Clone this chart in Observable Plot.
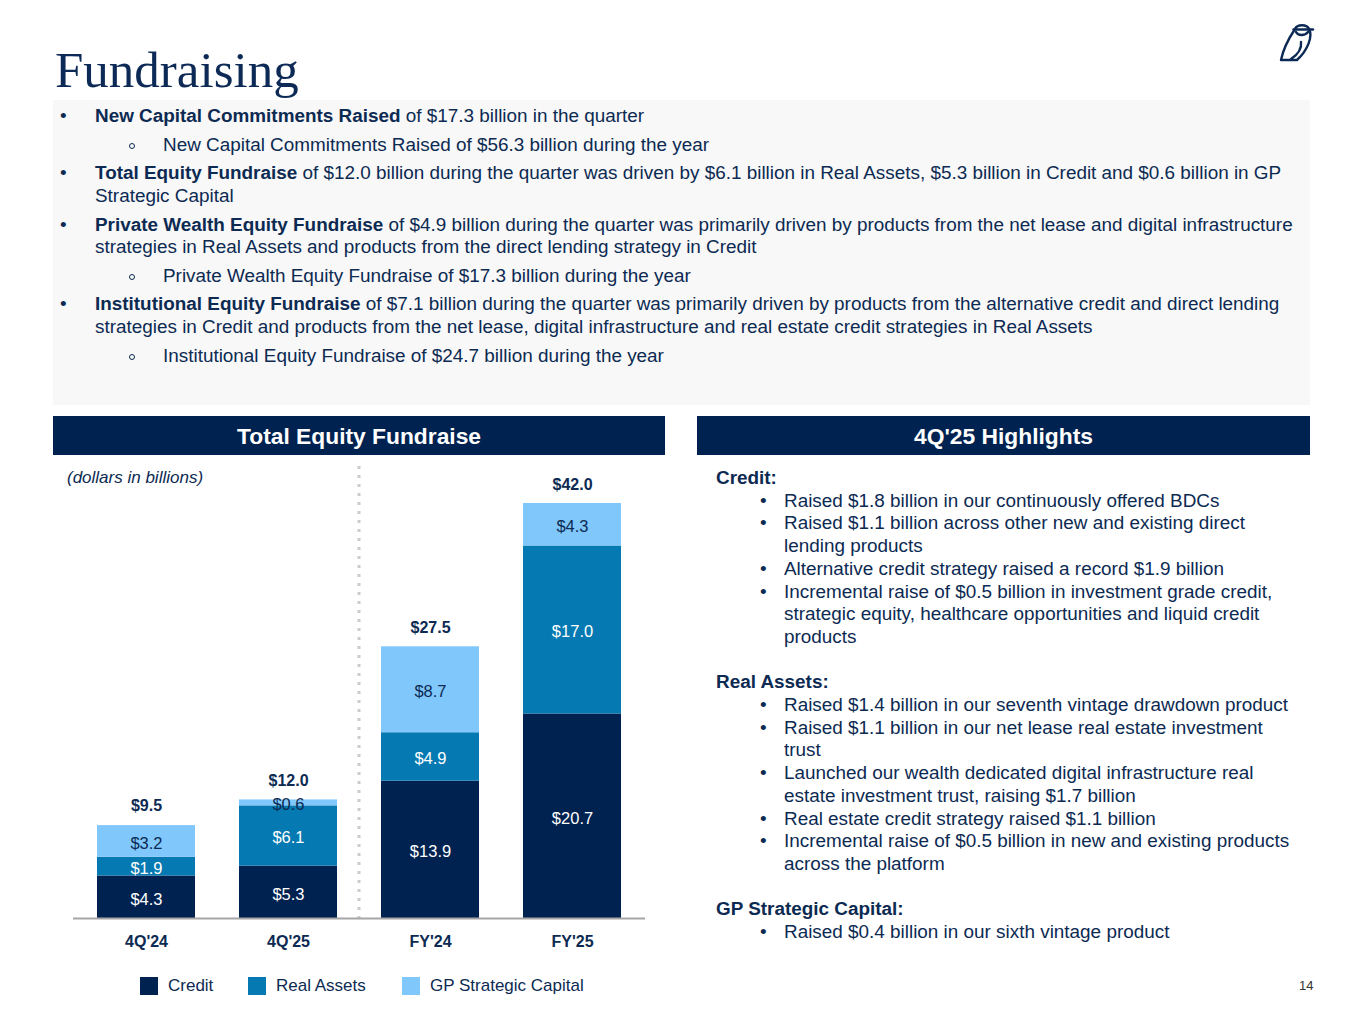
<!DOCTYPE html>
<html>
<head>
<meta charset="utf-8">
<script src="https://cdn.jsdelivr.net/npm/d3@7"></script>
<script src="https://cdn.jsdelivr.net/npm/@observablehq/plot@0.6"></script>
<style>
  html, body { margin: 0; padding: 0; background: #fff; }
  #page { position: relative; width: 1365px; height: 1024px; overflow: hidden; font-family: "Liberation Sans", Arial, sans-serif; color: #0c2a52; }
  .abs { position: absolute; }
  #title { left: 55px; top: 40px; font-family: "Liberation Serif", "DejaVu Serif", serif; font-size: 51px; color: #0c2a55; line-height: 60px; }
  #box { left: 53px; top: 100px; width: 1257px; height: 305px; background: #f8f8f8; }
  .ln { position: absolute; white-space: nowrap; font-size: 18.9px; line-height: 22px; color: #0c2a52; }
  .hdr { position: absolute; top: 416px; height: 39px; background: #002251; color: #fff; font-weight: bold; font-size: 22.8px; line-height: 40px; text-align: center; }
  #chart { left: 53px; top: 460px; }
  .leg { position: absolute; top: 977px; font-size: 17px; line-height: 18px; white-space: nowrap; color: #0c2a52; }
  .sw { display: inline-block; width: 18px; height: 18px; vertical-align: top; margin-right: 10px; }
  .ring { position: absolute; width: 4px; height: 4px; border: 1.3px solid #0c2a52; border-radius: 50%; }
</style>
</head>
<body>
<div id="page">
  <div id="title" class="abs">Fundraising</div>
  <svg class="abs" style="left:1275px;top:20px" width="44" height="44" viewBox="0 0 44 44">
    <g fill="none" stroke="#0c2a55" stroke-width="2.4" stroke-linecap="round" stroke-linejoin="round">
      <path d="M20 9 C22 4 32 4 34 9"/>
      <path d="M18.5 9.5 L38 9.5"/>
      <path d="M21 12 C23 16 30 16 33 12"/>
      <path d="M34 9 C38 16 33 30 22 40 L6 40 C8 30 14 18 20 9"/>
      <path d="M26 22 C27 29 22 35 16 39"/>
    </g>
  </svg>
  <div id="box" class="abs"></div>
  <div class="hdr" style="left:53px;width:612px;">Total Equity Fundraise</div>
  <div class="hdr" style="left:697px;width:613px;">4Q'25 Highlights</div>
  <div class="ln" style="left:67px;top:467px;font-style:italic;font-size:17px;">(dollars in billions)</div>
  <div id="chart" class="abs"></div>
  <div class="ln" style="left:1299px;top:975px;font-size:13px;color:#333;">14</div>
</div>
<script>
// ---------- data ----------
const categories = ["4Q'24", "4Q'25", "FY'24", "FY'25"];
const seriesNames = ["Credit", "Real Assets", "GP Strategic Capital"];
const credit = [4.3, 5.3, 13.9, 20.7];
const realAssets = [1.9, 6.1, 4.9, 17.0];
const gpStrategic = [3.2, 0.6, 8.7, 4.3];
const totals = [9.5, 12.0, 27.5, 42.0];
const seriesColors = ["#002251", "#0579b1", "#80c7fb"];

const bulletLines = [
  {kind: "main", bold: "New Capital Commitments Raised", rest: " of $17.3 billion in the quarter"},
  {kind: "sub", rest: "New Capital Commitments Raised of $56.3 billion during the year"},
  {kind: "main", bold: "Total Equity Fundraise", rest: " of $12.0 billion during the quarter was driven by $6.1 billion in Real Assets, $5.3 billion in Credit and $0.6 billion in GP"},
  {kind: "cont", rest: "Strategic Capital"},
  {kind: "main", bold: "Private Wealth Equity Fundraise", rest: " of $4.9 billion during the quarter was primarily driven by products from the net lease and digital infrastructure"},
  {kind: "cont", rest: "strategies in Real Assets and products from the direct lending strategy in Credit"},
  {kind: "sub", rest: "Private Wealth Equity Fundraise of $17.3 billion during the year"},
  {kind: "main", bold: "Institutional Equity Fundraise", rest: " of $7.1 billion during the quarter was primarily driven by products from the alternative credit and direct lending"},
  {kind: "cont", rest: "strategies in Credit and products from the net lease, digital infrastructure and real estate credit strategies in Real Assets"},
  {kind: "sub", rest: "Institutional Equity Fundraise of $24.7 billion during the year"}
];
const bulletCenters = [116, 145, 173, 196, 225, 247, 276, 304, 327, 356];

const highlightLines = [
  {kind: "head", text: "Credit:"},
  {kind: "item", text: "Raised $1.8 billion in our continuously offered BDCs"},
  {kind: "item", text: "Raised $1.1 billion across other new and existing direct"},
  {kind: "cont", text: "lending products"},
  {kind: "item", text: "Alternative credit strategy raised a record $1.9 billion"},
  {kind: "item", text: "Incremental raise of $0.5 billion in investment grade credit,"},
  {kind: "cont", text: "strategic equity, healthcare opportunities and liquid credit"},
  {kind: "cont", text: "products"},
  {kind: "blank", text: ""},
  {kind: "head", text: "Real Assets:"},
  {kind: "item", text: "Raised $1.4 billion in our seventh vintage drawdown product"},
  {kind: "item", text: "Raised $1.1 billion in our net lease real estate investment"},
  {kind: "cont", text: "trust"},
  {kind: "item", text: "Launched our wealth dedicated digital infrastructure real"},
  {kind: "cont", text: "estate investment trust, raising $1.7 billion"},
  {kind: "item", text: "Real estate credit strategy raised $1.1 billion"},
  {kind: "item", text: "Incremental raise of $0.5 billion in new and existing products"},
  {kind: "cont", text: "across the platform"},
  {kind: "blank", text: ""},
  {kind: "head", text: "GP Strategic Capital:"},
  {kind: "item", text: "Raised $0.4 billion in our sixth vintage product"}
];

// ---------- text blocks ----------
const page = document.getElementById("page");
function addLine(html, left, centerY, extra) {
  const d = document.createElement("div");
  d.className = "ln";
  d.style.left = left + "px";
  d.style.top = (centerY - 11) + "px";
  if (extra) Object.assign(d.style, extra);
  d.innerHTML = html;
  page.appendChild(d);
  return d;
}
bulletLines.forEach((b, i) => {
  const cy = bulletCenters[i];
  if (b.kind === "main") {
    addLine("•", 60, cy);
    addLine("<b>" + b.bold + "</b>" + b.rest, 95, cy);
  } else if (b.kind === "sub") {
    const r = document.createElement("div");
    r.className = "ring";
    r.style.left = "129px";
    r.style.top = (cy - 2) + "px";
    page.appendChild(r);
    addLine(b.rest, 163, cy);
  } else {
    addLine(b.rest, 95, cy);
  }
});
const hlStart = 478, hlStep = 22.7;
highlightLines.forEach((h, i) => {
  const cy = hlStart + i * hlStep;
  if (h.kind === "head") addLine("<b>" + h.text + "</b>", 716, cy);
  else if (h.kind === "item") { addLine("•", 760, cy); addLine(h.text, 784, cy); }
  else if (h.kind === "cont") addLine(h.text, 784, cy);
});

// legend
const legendPos = [140, 248, 402];
seriesNames.forEach((s, i) => {
  const d = document.createElement("div");
  d.className = "leg";
  d.style.left = legendPos[i] + "px";
  d.innerHTML = `<span class="sw" style="background:${seriesColors[i]}"></span>${s}`;
  page.appendChild(d);
});

// ---------- chart ----------
const navy = "#0c2a52";
const seriesValues = [credit, realAssets, gpStrategic];
const data = [];
categories.forEach((c, ci) => {
  seriesNames.forEach((s, si) => data.push({cat: c, series: s, value: seriesValues[si][ci]}));
});
const totalData = categories.map((c, i) => ({cat: c, total: totals[i]}));
const fmt = v => "$" + v.toFixed(1);

function divider(index, scales, values, dims) {
  const x = scales.x, y = scales.y;
  const bw = typeof x.bandwidth === "function" ? x.bandwidth() : 0;
  const xm = ((x(categories[1]) + bw) + x(categories[2])) / 2;
  const g = d3.create("svg:g");
  g.append("line")
    .attr("x1", xm).attr("x2", xm)
    .attr("y1", 6).attr("y2", y(0))
    .attr("stroke", "#cccccc").attr("stroke-width", 3)
    .attr("stroke-dasharray", "3,6");
  return g.node();
}

const chart = Plot.plot({
  width: 612,
  height: 500,
  marginLeft: 20,
  marginRight: 20,
  marginTop: 43,
  marginBottom: 42,
  style: {fontFamily: "'Liberation Sans', Arial, sans-serif", fontSize: "16px", color: navy, background: "transparent", overflow: "visible"},
  x: {domain: categories, paddingInner: 0.31, paddingOuter: 0.16, label: null},
  y: {domain: [0, 42], axis: null},
  color: {domain: seriesNames, range: seriesColors},
  marks: [
    divider,
    Plot.barY(data, {x: "cat", y: "value", fill: "series", order: seriesNames}),
    Plot.text(data, Plot.stackY({x: "cat", y: "value", z: "series", order: seriesNames,
      text: d => d.series === "GP Strategic Capital" ? null : fmt(d.value), fill: "white", fontSize: 16.5, dy: 2})),
    Plot.text(data, Plot.stackY({x: "cat", y: "value", z: "series", order: seriesNames,
      text: d => d.series === "GP Strategic Capital" ? fmt(d.value) : null, fill: navy, fontSize: 16.5, dy: 2})),
    Plot.text(totalData, {x: "cat", y: "total", text: d => fmt(d.total), dy: -19, fontWeight: "bold", fill: navy, fontSize: 16}),
    Plot.ruleY([0], {stroke: "#a6a6a6", strokeWidth: 2}),
    Plot.axisX({tickSize: 0, tickPadding: 17, fontWeight: "bold", fontSize: 16, fill: navy, label: null})
  ]
});
document.getElementById("chart").appendChild(chart);
</script>
</body>
</html>
